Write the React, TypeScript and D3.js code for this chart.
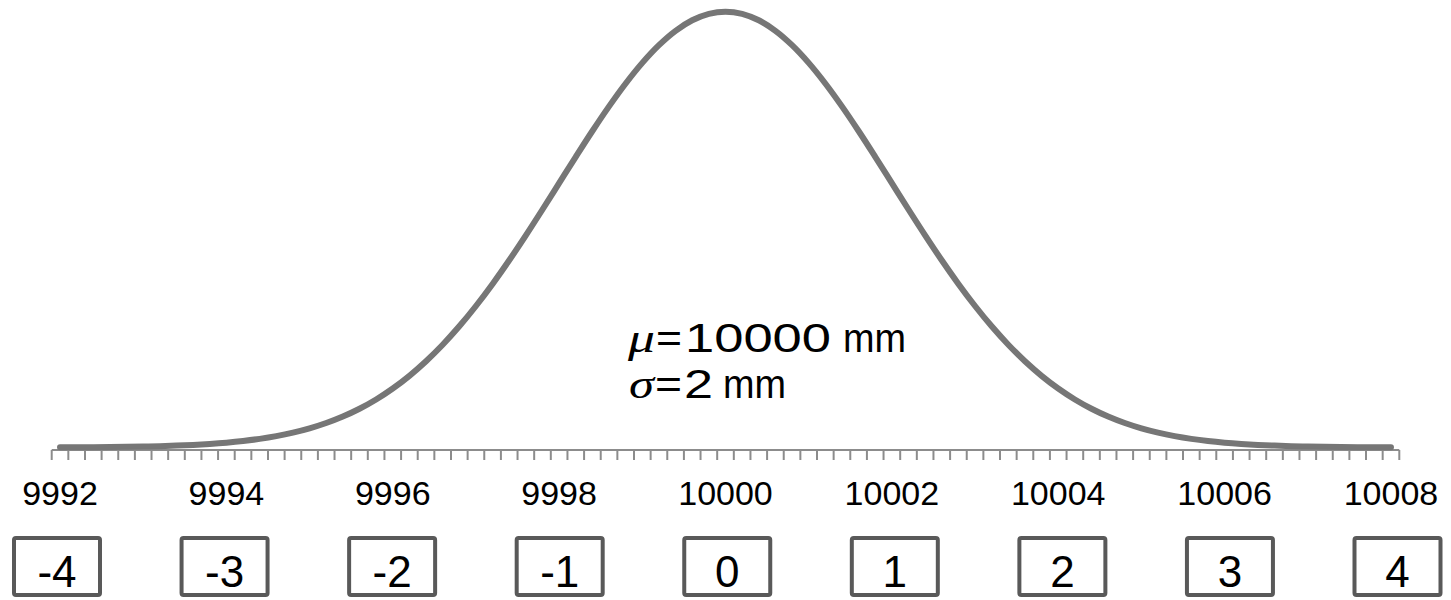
import React from "react";
import * as d3 from "d3";

// Normal distribution of a length measurement: mu = 10000 mm, sigma = 2 mm
// Categories run from 9992 to 10008 mm in steps of 0.2 mm (81 points).
const categories: number[] = d3.range(0, 81).map((i) => +(9992 + i * 0.2).toFixed(1));

// Probability density at each category
const density: number[] = [
  0.00007, 0.0001, 0.00015, 0.00021, 0.00031, 0.00044, 0.00062, 0.00086, 0.00119, 0.00164,
  0.00222, 0.00298, 0.00396, 0.00521, 0.00679, 0.00876, 0.0112, 0.01417, 0.01774, 0.02199,
  0.027, 0.03281, 0.03948, 0.04703, 0.05546, 0.06476, 0.07486, 0.08569, 0.0971, 0.10893,
  0.12099, 0.13304, 0.14485, 0.15613, 0.16661, 0.17603, 0.18414, 0.1907, 0.19552, 0.19848,
  0.19947,
  0.19848, 0.19552, 0.1907, 0.18414, 0.17603, 0.16661, 0.15613, 0.14485, 0.13304, 0.12099,
  0.10893, 0.0971, 0.08569, 0.07486, 0.06476, 0.05546, 0.04703, 0.03948, 0.03281, 0.027,
  0.02199, 0.01774, 0.01417, 0.0112, 0.00876, 0.00679, 0.00521, 0.00396, 0.00298, 0.00222,
  0.00164, 0.00119, 0.00086, 0.00062, 0.00044, 0.00031, 0.00021, 0.00015, 0.0001, 0.00007,
];

// Axis labels shown every 2 mm
const tickLabels: number[] = [9992, 9994, 9996, 9998, 10000, 10002, 10004, 10006, 10008];

// Standardised scores shown in boxes under the axis
const zScores: number[] = [-4, -3, -2, -1, 0, 1, 2, 3, 4];

const W = 1451;
const H = 600;

const MATH_FONT = "'Liberation Serif', 'DejaVu Serif', serif";

export default function App() {
  const x = d3
    .scaleBand<number>()
    .domain(categories)
    .range([51.7, 1399.3])
    .paddingInner(0)
    .paddingOuter(0);
  const bw = x.bandwidth();
  const cx = (c: number) => (x(c) as number) + bw / 2;

  const y = d3.scaleLinear().domain([0, 0.2]).range([447.5, 10.5]);

  const line = d3
    .line<number>()
    .x((_, i) => cx(categories[i]))
    .y((d) => y(d))
    .curve(d3.curveCatmullRom);

  const zx = d3.scaleLinear().domain([-4, 4]).range([57, 1397.5]);

  const axisY = 450;
  const tickPos = categories.map((c) => x(c) as number).concat([1399.3]);

  return (
    <svg
      width={W}
      height={H}
      style={{ position: "absolute", left: 0, top: 0, background: "#fff" }}
      fontFamily="Arial, 'Liberation Sans', sans-serif"
    >
      {/* category axis */}
      <line x1={51.7} x2={1399.3} y1={axisY} y2={axisY} stroke="#8c8c8c" strokeWidth={2} />
      {tickPos.map((t, i) => (
        <line key={i} x1={t} x2={t} y1={axisY} y2={axisY + 10} stroke="#8c8c8c" strokeWidth={2} />
      ))}
      {tickLabels.map((lab) => (
        <text key={lab} x={cx(lab)} y={505} fontSize={34} textAnchor="middle" fill="#000">
          {lab}
        </text>
      ))}

      {/* density curve */}
      <path
        d={line(density) || ""}
        fill="none"
        stroke="#767676"
        strokeWidth={6}
        strokeLinecap="round"
        strokeLinejoin="round"
      />

      {/* parameters */}
      <g fontSize={40} fill="#000">
        <text x={628} y={351.7} fontFamily={MATH_FONT} fontStyle="italic" textLength={27} lengthAdjust="spacingAndGlyphs">μ</text>
        <text x={656} y={351.7} textLength={26} lengthAdjust="spacingAndGlyphs">=</text>
        <text x={685} y={351.7} textLength={146} lengthAdjust="spacingAndGlyphs">10000</text>
        <text x={843} y={351.7} textLength={63} lengthAdjust="spacingAndGlyphs">mm</text>

        <text x={629} y={398.3} fontFamily={MATH_FONT} fontStyle="italic" textLength={25} lengthAdjust="spacingAndGlyphs">σ</text>
        <text x={655} y={398.3} textLength={27} lengthAdjust="spacingAndGlyphs">=</text>
        <text x={684} y={398.3} textLength={29} lengthAdjust="spacingAndGlyphs">2</text>
        <text x={723} y={398.3} textLength={63} lengthAdjust="spacingAndGlyphs">mm</text>
      </g>

      {/* z-score boxes */}
      {zScores.map((z) => (
        <g key={z} transform={`translate(${zx(z)},0)`}>
          <rect x={-43} y={538} width={86} height={57} fill="#fff" stroke="#595959" strokeWidth={4} rx={2} />
          <text x={0} y={586.5} fontSize={44} textAnchor="middle" fill="#000">
            {z}
          </text>
        </g>
      ))}
    </svg>
  );
}
